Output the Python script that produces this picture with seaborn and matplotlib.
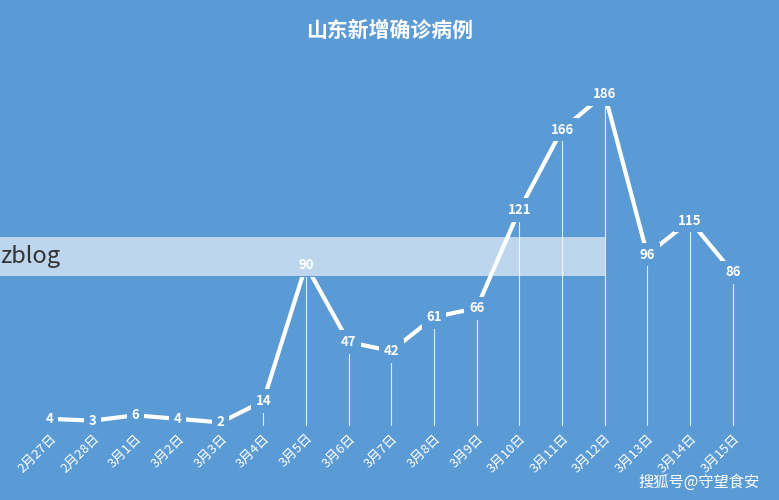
import matplotlib
matplotlib.use("Agg")
import matplotlib.pyplot as plt
import seaborn as sns
import pandas as pd

dates = ["2月27日","2月28日","3月1日","3月2日","3月3日","3月4日","3月5日","3月6日","3月7日",
         "3月8日","3月9日","3月10日","3月11日","3月12日","3月13日","3月14日","3月15日"]
cases = [4,3,6,4,2,14,90,47,42,61,66,121,166,186,96,115,86]

sns.set_style("white")
plt.rcParams['font.family'] = ['Noto Sans CJK SC', 'DejaVu Sans']
bg = "#5B9BD5"
fig = plt.figure(figsize=(7.79, 5), dpi=100, facecolor=bg)
ax = fig.add_axes([28.6/779, 74/500, (754-28.6)/779, 366/500])
ax.set_facecolor(bg)
df = pd.DataFrame({"x": range(len(dates)), "y": cases})
ax.vlines(df.x, 0, df.y, color="white", lw=0.8, alpha=0.8)
sns.lineplot(data=df, x="x", y="y", ax=ax, color="white", lw=3, zorder=3)
for x, y in zip(df.x, df.y):
    ax.text(x, y, str(y), ha="center", va="center", color="white", fontsize=9.5,
            fontweight="bold", zorder=5,
            bbox=dict(boxstyle="square,pad=0.35", fc=bg, ec="none"))
ax.set_xlim(-0.5, 16.5)
ax.set_ylim(0, 205)
ax.set_yticks([])
ax.set_xticks(df.x)
ax.set_xticklabels(dates, rotation=45, ha="right", rotation_mode="anchor", color="white", fontsize=9.5)
ax.tick_params(axis="x", length=0, pad=4)
ax.set_xlabel(""); ax.set_ylabel("")
for s in ax.spines.values():
    s.set_visible(False)
fig.text(0.5, 0.94, "山东新增确诊病例", ha="center", va="center", color="white",
         fontsize=15, fontweight="bold")
fig.patches.append(plt.Rectangle((0, 1-276/500), 605/779, 39/500, transform=fig.transFigure,
                                 fc="white", alpha=0.6, ec="none", zorder=10))
fig.text(0.0, 1-256/500, "zblog", ha="left", va="center", color="#333333", fontsize=17, zorder=11)
fig.text(0.975, 1-482/500, "搜狐号@守望食安", ha="right", va="center", color="white", fontsize=11, zorder=11)
fig.savefig("out.png", dpi=100, facecolor=bg)
